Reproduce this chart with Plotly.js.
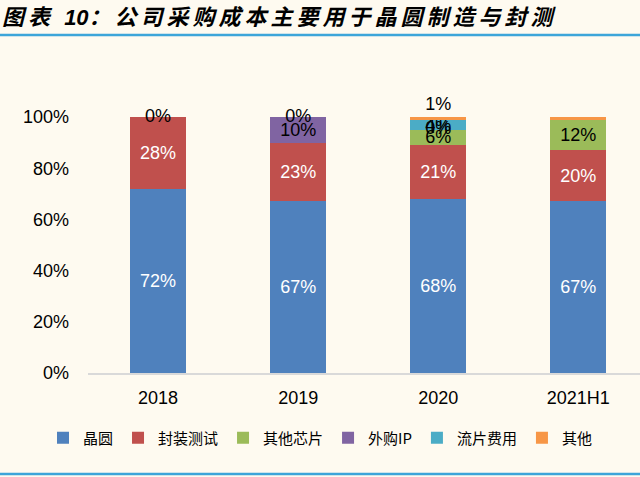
<!DOCTYPE html>
<html>
<head>
<meta charset="utf-8">
<script src="https://cdn.plot.ly/plotly-3.0.1.min.js"></script>
<style>
    html, body { margin: 0; padding: 0; background: #FEFAF0; }
    #chart { width: 640px; height: 477px; }
    .gtitle { letter-spacing: 4px; }
</style>
</head>
<body>
<div id="chart"></div>
<script>
// values, in %
const categories = ['2018', '2019', '2020', '2021H1'];
const wafer = [72, 67, 68, 67];
const packaging = [28, 23, 21, 20];
const otherChips = [0, 0, 6, 12];
const ipLicense = [0, 10, 0, 0];
const tapeout = [0, 0, 4, 0];
const others = [0, 0, 1, 1];

const yTickValues = [0, 20, 40, 60, 80, 100];
const yTickLabels = ['0%', '20%', '40%', '60%', '80%', '100%'];

const seriesNames = ['晶圆', '封装测试', '其他芯片', '外购IP', '流片费用', '其他'];
const seriesColors = ['#4F81BD', '#C0504D', '#9BBB59', '#8064A2', '#4BACC6', '#F79646'];
const labelColors = ['#FFFFFF', '#FFFFFF', '#000000', '#000000', '#000000', '#000000'];

// which points of the top series carry a label (2021H1 has none)
const othersLabelShown = [false, false, true, false];
// zero segments whose "0%" label is still visible: [category index, series index]
const zeroLabels = [[0, 5], [1, 5], [2, 3]];

const allSeries = [wafer, packaging, otherChips, ipLicense, tapeout, others];
const labelFont = 'Liberation Sans, Arial, sans-serif';

function pct(v) {
    return v + '%';
}

var traces = [];

for (let i = 0;i < allSeries.length;i++) {
    let values = allSeries[i];
    let isTop = (i == allSeries.length - 1);
    let texts = values.map((v, c) => {
        if (isTop && !othersLabelShown[c]) return '';
        return v > 0 ? pct(v) : '';
    });
    let positions = values.map((v, c) => (isTop && othersLabelShown[c]) ? 'outside' : 'inside');

    traces.push({
        type: 'bar',
        name: seriesNames[i],
        x: categories,
        y: values,
        text: texts,
        textposition: positions,
        insidetextanchor: 'middle',
        constraintext: 'none',
        cliponaxis: false,
        textfont: { family: labelFont, size: 18, color: labelColors[i] },
        outsidetextfont: { family: labelFont, size: 18, color: '#000000' },
        marker: { color: seriesColors[i], line: { width: 0 } },
        hoverinfo: 'skip'
    });
}

// labels of zero-height segments (plotly drops text on empty bars)
let zx = [], zy = [], zt = [];
for (let [c, s] of zeroLabels) {
    let base = 0;
    for (let k = 0;k < s;k++) base += allSeries[k][c];
    zx.push(categories[c]);
    zy.push(base + allSeries[s][c] / 2);
    zt.push(pct(allSeries[s][c]));
}
traces.push({
    type: 'scatter',
    mode: 'text',
    x: zx,
    y: zy,
    text: zt,
    textposition: 'middle center',
    textfont: { family: labelFont, size: 18, color: '#000000' },
    cliponaxis: false,
    showlegend: false,
    hoverinfo: 'skip'
});

var layout = {
    width: 640,
    height: 477,
    paper_bgcolor: '#FEFAF0',
    plot_bgcolor: '#FEFAF0',
    margin: { l: 88, r: 0, t: 117, b: 104, pad: 0 },
    barmode: 'stack',
    bargap: 0.6,
    showlegend: true,
    title: {
        text: '图表 <span style="letter-spacing:0px">10</span>：公司采购成本主要用于晶圆制造与封测',
        font: { family: 'Liberation Sans, Noto Sans CJK SC, sans-serif', size: 22, color: '#000000', weight: 'bold', style: 'italic' },
        xref: 'container',
        x: 0,
        xanchor: 'left',
        yref: 'container',
        y: 1 - 17 / 477,
        yanchor: 'middle',
        pad: { l: 2 }
    },
    legend: {
        orientation: 'h',
        xref: 'container',
        x: 0.5,
        xanchor: 'center',
        yref: 'container',
        y: 1 - 438 / 477,
        yanchor: 'middle',
        traceorder: 'normal',
        font: { family: 'Noto Sans CJK SC, sans-serif', size: 15, color: '#000000' },
        bgcolor: 'rgba(0,0,0,0)',
        itemwidth: 30
    },
    xaxis: {
        type: 'category',
        range: [-0.5, 3.44],
        showline: true,
        linecolor: '#D9D9D9',
        linewidth: 1.5,
        showgrid: false,
        zeroline: false,
        ticks: '',
        ticklabelstandoff: 8,
        tickfont: { family: labelFont, size: 18, color: '#000000' }
    },
    yaxis: {
        range: [0, 100],
        tickmode: 'array',
        tickvals: yTickValues,
        ticktext: yTickLabels,
        showline: false,
        showgrid: false,
        zeroline: false,
        ticks: '',
        ticklabelstandoff: 18,
        tickfont: { family: labelFont, size: 18, color: '#000000' }
    },
    shapes: [
        // rule under the title
        { type: 'line', xref: 'paper', yref: 'paper', x0: -0.2, x1: 1.1, y0: (373 - 35) / 256, y1: (373 - 35) / 256,
          line: { color: '#3DA5D9', width: 2.5 } },
        // rule at the bottom
        { type: 'line', xref: 'paper', yref: 'paper', x0: -0.2, x1: 1.1, y0: (373 - 474) / 256, y1: (373 - 474) / 256,
          line: { color: '#3DA5D9', width: 2.5 } }
    ]
};

Plotly.newPlot('chart', traces, layout, { displayModeBar: false, staticPlot: true });
</script>
</body>
</html>
